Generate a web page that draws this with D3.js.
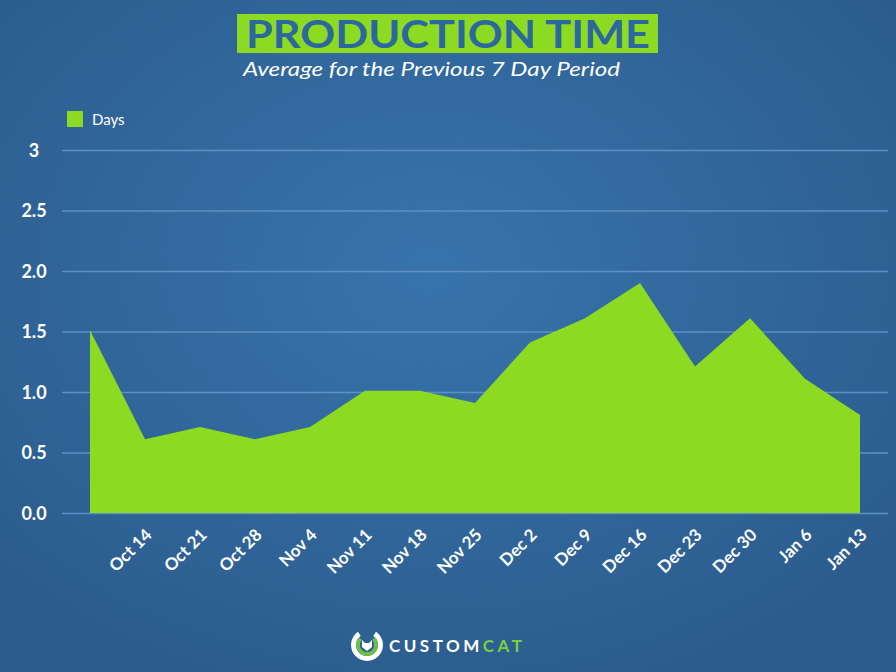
<!DOCTYPE html>
<html>
<head>
<meta charset="utf-8">
<script src="https://cdnjs.cloudflare.com/ajax/libs/d3/7.8.5/d3.min.js"></script>
<style>
  html, body { margin: 0; padding: 0; background: #2f6093; }
  svg { display: block; font-family: Lato, "Open Sans", sans-serif; }
</style>
</head>
<body>
<svg id="chart" width="896" height="672"></svg>
<script>
// data
var categories = ["", "Oct 14", "Oct 21", "Oct 28", "Nov 4", "Nov 11", "Nov 18", "Nov 25",
  "Dec 2", "Dec 9", "Dec 16", "Dec 23", "Dec 30", "Jan 6", "Jan 13"];
var days = [1.51, 0.61, 0.71, 0.61, 0.71, 1.01, 1.01, 0.91, 1.41, 1.61, 1.9, 1.21, 1.61, 1.11, 0.81];
var yTicks = [0, 0.5, 1, 1.5, 2, 2.5, 3];
var yTickLabels = ["0.0", "0.5", "1.0", "1.5", "2.0", "2.5", "3"];
var seriesName = "Days";

var green = "#8cdb22";
var svg = d3.select("#chart");

// background
var defs = svg.append("defs");
var grad = defs.append("radialGradient").attr("id", "bg")
  .attr("cx", "48%").attr("cy", "40%").attr("r", "65%");
grad.append("stop").attr("offset", "0%").attr("stop-color", "#3774ab");
grad.append("stop").attr("offset", "100%").attr("stop-color", "#2c5c8e");
svg.append("rect").attr("width", 896).attr("height", 672).attr("fill", "url(#bg)");

var x = d3.scalePoint().domain(categories).range([90, 860]);
var y = d3.scaleLinear().domain([0, 3]).range([513, 150]);

// gridlines + y labels
var yAxis = svg.append("g").attr("transform", "translate(62,0)")
  .call(d3.axisLeft(y).tickValues(yTicks).tickSize(-826)
    .tickFormat(function(d, i) { return yTickLabels[i]; }))
  .attr("font-family", "Lato, sans-serif");
yAxis.select(".domain").remove();
yAxis.selectAll(".tick line").attr("stroke", "#5d90c4").attr("stroke-width", 1.3);
yAxis.selectAll(".tick text").attr("x", -28).attr("dy", "0.35em")
  .attr("text-anchor", "middle").attr("fill", "#fff")
  .style("font-size", "18px").style("font-weight", "bold");

// area
var area = d3.area()
  .x(function(d, i) { return x(categories[i]); })
  .y0(y(0))
  .y1(function(d) { return y(d); });
svg.append("path").datum(days).attr("d", area).attr("fill", green);

// x labels, rotated
svg.append("g").selectAll("g").data(categories).enter().append("g")
  .attr("transform", function(d) { return "translate(" + (x(d) + 8) + ",536) rotate(-45)"; })
  .append("text")
  .attr("text-anchor", "end").attr("fill", "#fff")
  .style("font-size", "17px").style("font-weight", "bold")
  .text(function(d) { return d; });

// legend
svg.append("rect").attr("x", 67).attr("y", 111).attr("width", 16).attr("height", 16).attr("fill", green);
svg.append("text").attr("x", 92).attr("y", 125).attr("fill", "#fff")
  .style("font-size", "15px").text(seriesName);

// title
svg.append("rect").attr("x", 237).attr("y", 14).attr("width", 421).attr("height", 39).attr("fill", green);
svg.append("text").attr("x", 246).attr("y", 48)
  .attr("textLength", 404).attr("lengthAdjust", "spacingAndGlyphs")
  .attr("fill", "#2c679e").style("font-size", "39px").style("font-weight", 700)
  .text("PRODUCTION TIME");
svg.append("text").attr("x", 243).attr("y", 76)
  .attr("textLength", 377).attr("lengthAdjust", "spacingAndGlyphs")
  .attr("fill", "#fff").style("font-size", "20px").style("font-style", "italic")
  .text("Average for the Previous 7 Day Period");

// logo
var logo = svg.append("g").attr("transform", "translate(367,645)");
var arc = d3.arc();
logo.append("path").attr("fill", "#fff")
  .attr("d", arc({ innerRadius: 11, outerRadius: 16, startAngle: 0.6, endAngle: 2 * Math.PI - 0.6 }));
logo.append("path").attr("fill", "#6cc04a")
  .attr("d", arc({ innerRadius: 7, outerRadius: 11, startAngle: 0.8, endAngle: 2 * Math.PI - 0.8 }));
logo.append("circle").attr("r", 7).attr("fill", "#2f6093");
logo.append("path").attr("fill", "#fff")
  .attr("d", "M-5,-5 L-2,-2 L2,-2 L5,-5 L5,2 L0,6 L-5,2 Z");
var brand = svg.append("text").attr("x", 389).attr("y", 652)
  .style("font-size", "17px").style("font-weight", "bold").style("letter-spacing", "3.5px");
brand.append("tspan").attr("fill", "#fff").text("CUSTOM");
brand.append("tspan").attr("fill", "#7ccf3c").text("CAT");
</script>
</body>
</html>
